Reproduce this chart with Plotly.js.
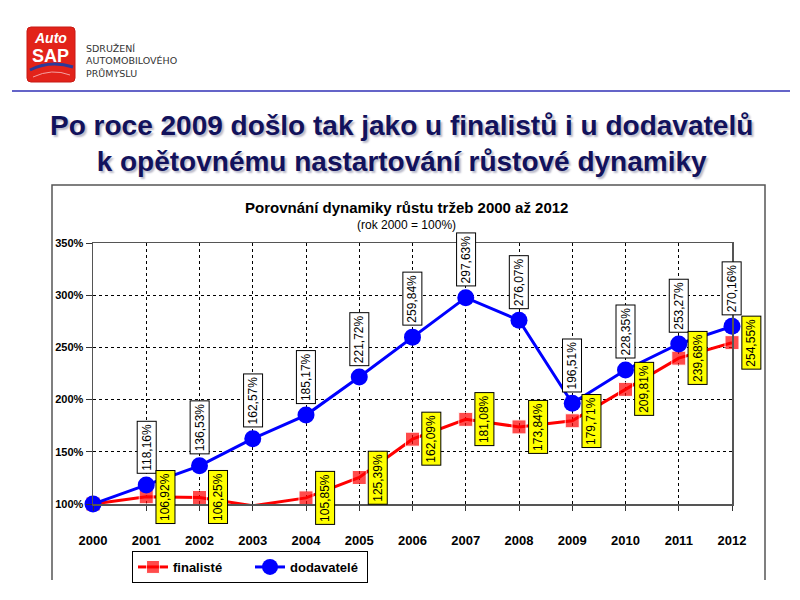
<!DOCTYPE html>
<html>
<head>
<meta charset="utf-8">
<script src="https://cdn.plot.ly/plotly-3.0.1.min.js"></script>
<style>
html,body{margin:0;padding:0;background:#fff;}
#chart{width:800px;height:600px;}
</style>
</head>
<body>
<div id="chart"></div>
<script>
// ---- data ----
const years = [2000, 2001, 2002, 2003, 2004, 2005, 2006, 2007, 2008, 2009, 2010, 2011, 2012];
const finaliste = [100, 106.92, 106.25, 98.3, 105.85, 125.39, 162.09, 181.08, 173.84, 179.71, 209.81, 239.68, 254.55];
const dodavatele = [100, 118.16, 136.53, 162.57, 185.17, 221.72, 259.84, 297.63, 276.07, 196.51, 228.35, 253.27, 270.16];
const finalisteLabeled = [false, true, true, false, true, true, true, true, true, true, true, true, true];
const dodavateleLabeled = [false, true, true, true, true, true, true, true, true, true, true, true, true];
const seriesNames = ['finalisté', 'dodavatelé'];
const yTicks = [100, 150, 200, 250, 300, 350];
const yTickLabels = ['100%', '150%', '200%', '250%', '300%', '350%'];

const slideTitle = 'Po roce 2009 došlo tak jako u finalistů i u dodavatelů<br>k opětovnému nastartování růstové dynamiky';
const chartTitle = 'Porovnání dynamiky růstu tržeb 2000 až 2012';
const chartSubtitle = '(rok 2000 = 100%)';
const orgLines = 'SDRUŽENÍ<br>AUTOMOBILOVÉHO<br>PRŮMYSLU';

// ---- layout helpers (pixel -> paper) ----
const PL = 93, PR = 732, PT = 243, PB = 504;
const px = v => (v - PL) / (PR - PL);
const py = v => (PB - v) / (PB - PT);
const FONT = '"Liberation Sans", Arial, sans-serif';
const fmt = v => v.toFixed(2).replace('.', ',') + '%';

const markerSizesRed = finaliste.map((v, i) => (i === 3 ? 0 : 14));

const traces = [
  {
    x: years, y: finaliste, name: seriesNames[0], type: 'scatter', mode: 'lines+markers',
    line: {color: '#ff0000', width: 3},
    marker: {symbol: 'square', size: markerSizesRed, color: '#ff0000'},
    cliponaxis: false, hoverinfo: 'x+y'
  },
  {
    x: years, y: dodavatele, name: seriesNames[1], type: 'scatter', mode: 'lines+markers',
    line: {color: '#0000ff', width: 3},
    marker: {symbol: 'circle', size: 17, color: '#0000ff'},
    cliponaxis: false, hoverinfo: 'x+y'
  }
];

const annotations = [];
// slide title
annotations.push({
  xref: 'paper', yref: 'paper', x: px(401), y: py(144), xanchor: 'center', yanchor: 'middle',
  text: slideTitle, showarrow: false, align: 'center',
  font: {family: FONT, size: 28, color: '#12125c', weight: 'bold', shadow: '2px 2px 2px #b8b8c8'}
});
// chart title
annotations.push({
  xref: 'paper', yref: 'paper', x: px(406), y: py(207), xanchor: 'center', yanchor: 'middle',
  text: '<b>' + chartTitle + '</b>', showarrow: false,
  font: {family: FONT, size: 15, color: '#000'}
});
annotations.push({
  xref: 'paper', yref: 'paper', x: px(406), y: py(225), xanchor: 'center', yanchor: 'middle',
  text: chartSubtitle, showarrow: false,
  font: {family: FONT, size: 12, color: '#000'}
});
// logo texts
annotations.push({
  xref: 'paper', yref: 'paper', x: px(50), y: py(38), xanchor: 'center', yanchor: 'middle',
  text: '<b><i>Auto</i></b>', showarrow: false,
  font: {family: FONT, size: 14, color: '#ffffff'}
});
annotations.push({
  xref: 'paper', yref: 'paper', x: px(50), y: py(56), xanchor: 'center', yanchor: 'middle',
  text: '<b>SAP</b>', showarrow: false,
  font: {family: FONT, size: 18, color: '#ffffff'}
});
annotations.push({
  xref: 'paper', yref: 'paper', x: px(84), y: py(61), xanchor: 'left', yanchor: 'middle',
  text: orgLines, showarrow: false, align: 'left',
  font: {family: '"DejaVu Sans", sans-serif', size: 9.5, color: '#333333'}
});

// data labels
years.forEach((yr, i) => {
  if (dodavateleLabeled[i]) {
    annotations.push({
      x: yr, y: dodavatele[i], xref: 'x', yref: 'y', text: fmt(dodavatele[i]),
      showarrow: false, textangle: -90, xanchor: 'center', yanchor: 'bottom', yshift: 11,
      bgcolor: '#ffffff', bordercolor: '#000000', borderwidth: 1, borderpad: 2,
      font: {family: FONT, size: 12, color: '#000'}
    });
  }
  if (finalisteLabeled[i]) {
    annotations.push({
      x: yr, y: finaliste[i], xref: 'x', yref: 'y', text: fmt(finaliste[i]),
      showarrow: false, textangle: -90, xanchor: 'left', yanchor: 'middle', xshift: 9,
      bgcolor: '#ffff00', bordercolor: '#000000', borderwidth: 1, borderpad: 2,
      font: {family: FONT, size: 12, color: '#000'}
    });
  }
});

const shapes = [
  // outer chart frame (no bottom edge)
  {type: 'path', xref: 'paper', yref: 'paper',
   path: `M ${px(52)} ${py(580)} L ${px(52)} ${py(185)} L ${px(765)} ${py(185)} L ${px(765)} ${py(580)}`,
   line: {color: '#555555', width: 1.5}},
  // header rule
  {type: 'line', xref: 'paper', yref: 'paper', x0: px(12), x1: px(790), y0: py(91), y1: py(91),
   line: {color: '#6464c8', width: 2}},
  // logo box
  {type: 'path', xref: 'paper', yref: 'paper',
   path: `M ${px(31)} ${py(27)} L ${px(71)} ${py(27)} Q ${px(75)} ${py(27)} ${px(75)} ${py(31)} L ${px(75)} ${py(78)} Q ${px(75)} ${py(82)} ${px(71)} ${py(82)} L ${px(31)} ${py(82)} Q ${px(27)} ${py(82)} ${px(27)} ${py(78)} L ${px(27)} ${py(31)} Q ${px(27)} ${py(27)} ${px(31)} ${py(27)} Z`,
   fillcolor: '#e2231a', line: {color: '#c81a14', width: 1}},
  // logo swoosh
  {type: 'path', xref: 'paper', yref: 'paper',
   path: `M ${px(30)} ${py(70)} Q ${px(50)} ${py(60)} ${px(73)} ${py(67)}`,
   line: {color: '#2b3a9a', width: 3}},
  {type: 'path', xref: 'paper', yref: 'paper',
   path: `M ${px(33)} ${py(77)} Q ${px(52)} ${py(68)} ${px(70)} ${py(75)}`,
   line: {color: '#f4a0a0', width: 1}}
];

const layout = {
  width: 800, height: 600,
  margin: {l: PL, r: 800 - PR, t: PT, b: 600 - PB, pad: 0},
  paper_bgcolor: '#ffffff', plot_bgcolor: '#ffffff',
  showlegend: true,
  legend: {
    orientation: 'h', x: px(132), y: py(551), xanchor: 'left', yanchor: 'top',
    bordercolor: '#000000', borderwidth: 1, bgcolor: '#ffffff',
    font: {family: FONT, size: 13, color: '#000', weight: 'bold'},
    tracegroupgap: 0, itemwidth: 30, entrywidth: 72
  },
  xaxis: {
    range: [2000, 2012], tickvals: years, ticktext: years.map(String),
    showgrid: true, gridcolor: '#000000', griddash: '3px,3px', gridwidth: 1,
    showline: true, linecolor: '#555555', linewidth: 1.5, mirror: true,
    ticks: 'outside', ticklen: 5, tickcolor: '#333333',
    ticklabelstandoff: 19,
    tickfont: {family: FONT, size: 13, color: '#000', weight: 'bold'},
    zeroline: false, fixedrange: true
  },
  yaxis: {
    range: [100, 350], tickvals: yTicks, ticktext: yTickLabels,
    showgrid: true, gridcolor: '#000000', griddash: '3px,3px', gridwidth: 1,
    showline: true, linecolor: '#555555', linewidth: 1.5, mirror: true,
    ticks: 'outside', ticklen: 6, tickcolor: '#333333',
    tickfont: {family: FONT, size: 11, color: '#000', weight: 'bold'},
    zeroline: false, fixedrange: true
  },
  annotations: annotations,
  shapes: shapes
};

Plotly.newPlot('chart', traces, layout, {staticPlot: true, displayModeBar: false});
</script>
</body>
</html>
